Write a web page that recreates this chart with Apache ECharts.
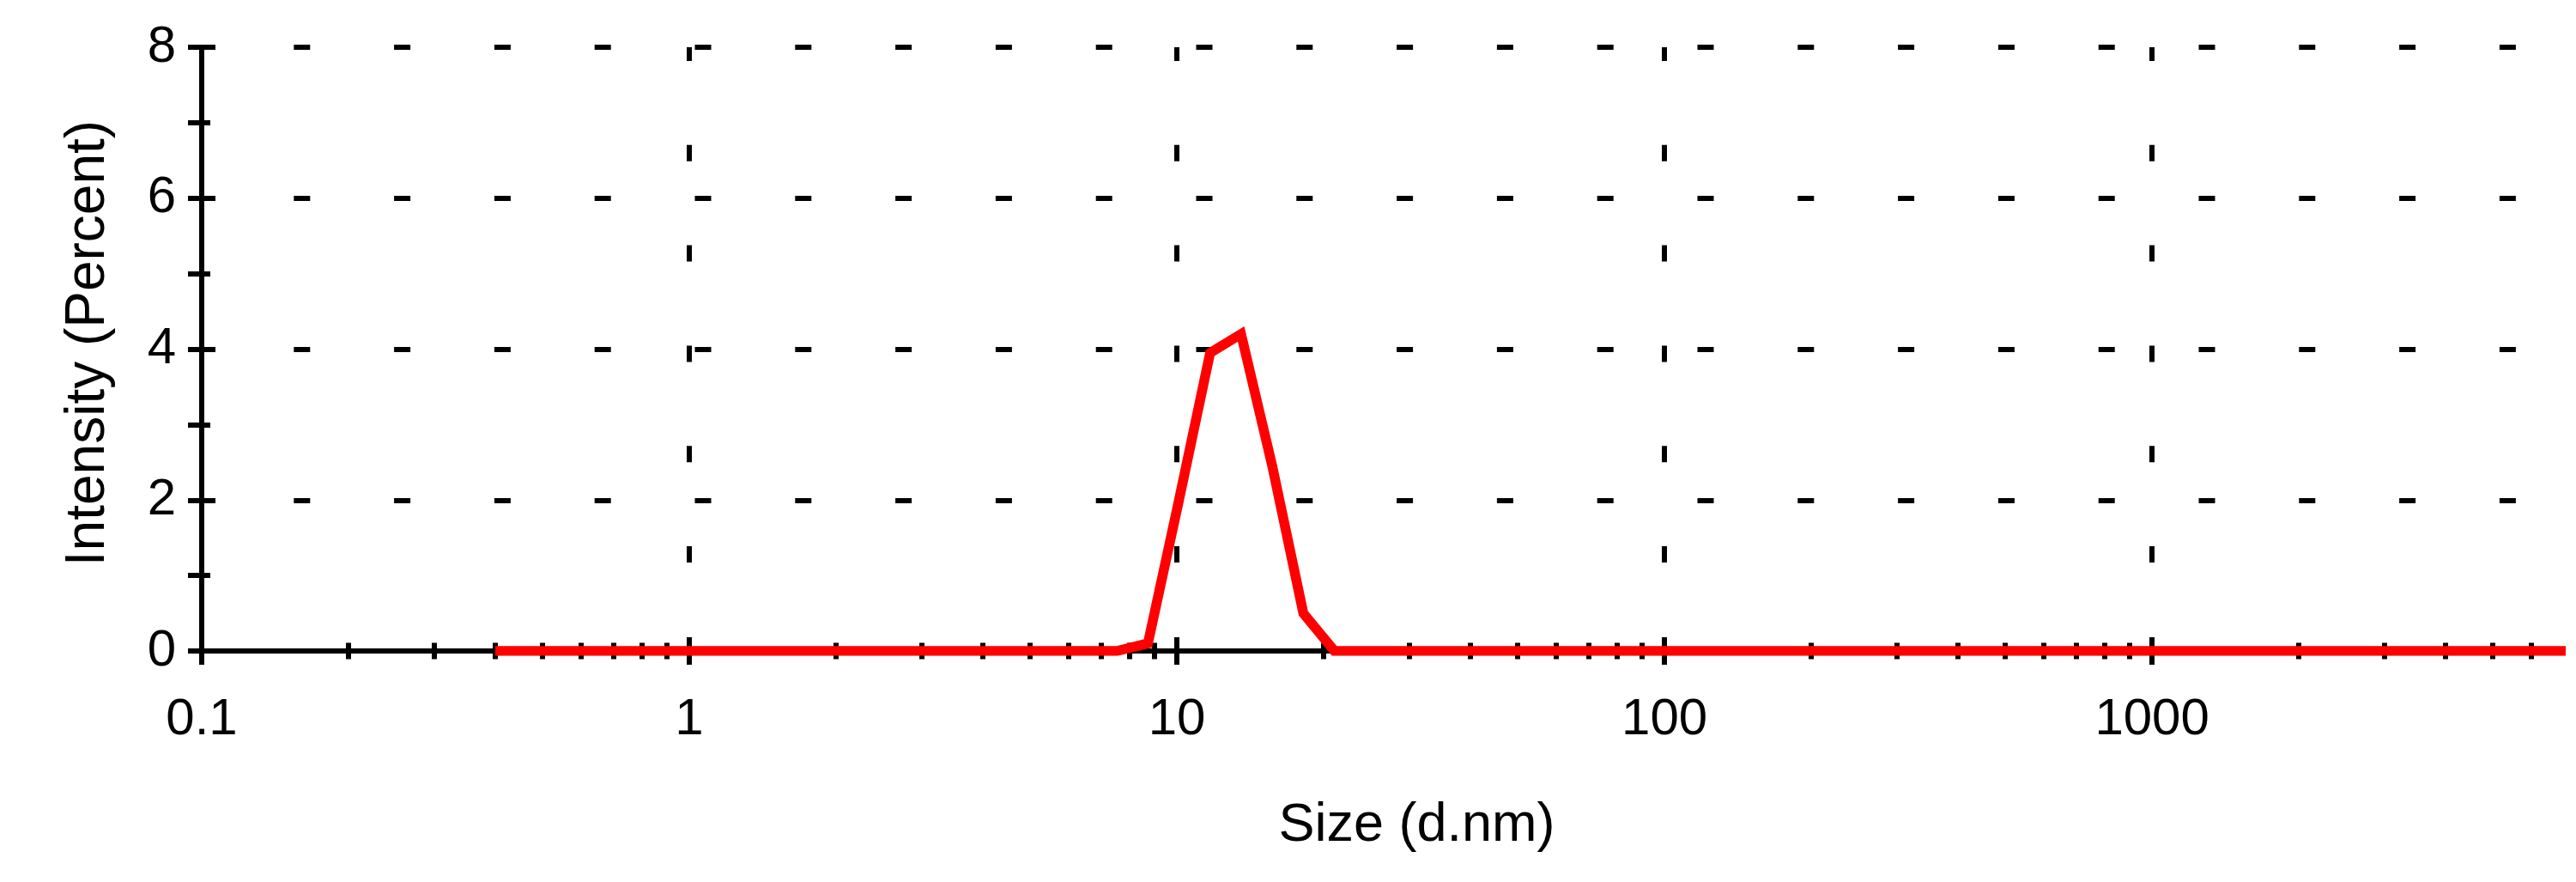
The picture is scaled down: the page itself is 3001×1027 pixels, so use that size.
<!DOCTYPE html>
<html>
<head>
<meta charset="utf-8">
<title>Size Distribution by Intensity</title>
<script src="https://cdn.jsdelivr.net/npm/echarts@6/dist/echarts.min.js"></script>
<style>
  html, body { margin: 0; padding: 0; background: #fff; }
  #chart { width: 3001px; height: 1027px; }
</style>
</head>
<body>
<div id="chart"></div>
<script>
// size classes (d.nm)
const sizes = [
  0.4, 0.4632, 0.5365, 0.6213, 0.7195, 0.8332, 0.9649, 1.117, 1.294, 1.499,
  1.736, 2.01, 2.328, 2.696, 3.122, 3.615, 4.187, 4.849, 5.615, 6.503,
  7.531, 8.721, 10.1, 11.7, 13.54, 15.69, 18.17, 21.04, 24.36, 28.21,
  32.67, 37.84, 43.82, 50.75, 58.77, 68.06, 78.82, 91.28, 105.7, 122.4,
  141.8, 164.2, 190.1, 220.2, 255, 295.3, 342, 396.1, 458.7, 531.2,
  615.1, 712.4, 825, 955.4, 1106, 1281, 1484, 1718, 1990, 2305,
  2669, 3091, 3580, 4145, 4801, 5560, 6439, 7456, 8635, 10000
]
// intensity (percent)
const intensity = [
  0, 0, 0, 0, 0, 0, 0, 0, 0, 0,
  0, 0, 0, 0, 0, 0, 0, 0, 0, 0,
  0, 0.1, 2.0, 3.95, 4.2, 2.45, 0.5, 0, 0, 0,
  0, 0, 0, 0, 0, 0, 0, 0, 0, 0,
  0, 0, 0, 0, 0, 0, 0, 0, 0, 0,
  0, 0, 0, 0, 0, 0, 0, 0, 0, 0,
  0, 0, 0, 0, 0, 0, 0, 0, 0, 0
]
// tick labels
const xTicks = [0.1, 1, 10, 100, 1000]
const xTickLabels = ['0.1', '1', '10', '100', '1000']
const yTicks = [0, 2, 4, 6, 8]

const chart = echarts.init(document.getElementById('chart'))

const font = '"Liberation Sans", Arial, sans-serif'
const black = '#000'
const tickStyle = { color: black, width: 6 }

// only label the decades
const xLabel = v => {
  const i = xTicks.findIndex(t => Math.abs(v / t - 1) < 1e-6)
  return i < 0 ? '' : xTickLabels[i]
}

const xBase = { type: 'log', logBase: 10, min: xTicks[0], max: 6855, position: 'bottom' }
const yBase = { type: 'value', min: yTicks[0], max: yTicks[yTicks.length - 1], interval: 2, position: 'left' }

const option = {
  animation: false,
  backgroundColor: '#fff',
  grid: { left: 235, right: 19, top: 55, bottom: 269 },
  xAxis: [
    {
      ...xBase,
      name: 'Size (d.nm)',
      nameLocation: 'middle',
      nameGap: 172,
      nameTextStyle: { color: black, fontSize: 63, fontFamily: font, padding: [0, 0, 0, 84] },
      axisLine: { show: true, onZero: false, lineStyle: tickStyle },
      axisTick: { show: true, length: 16, customValues: xTicks, lineStyle: tickStyle },
      minorTick: { show: true, splitNumber: 9, length: 9.5, lineStyle: tickStyle },
      axisLabel: { margin: 50, color: black, fontSize: 60, fontFamily: font, customValues: xTicks, formatter: xLabel },
      splitLine: { show: true, showMinLine: false, lineStyle: { color: black, width: 6, type: [19, 97.8], dashOffset: 3 } },
      minorSplitLine: { show: false }
    },
    {
      // ticks pointing up, so they cross the axis line
      ...xBase,
      axisLine: { show: false },
      axisTick: { show: true, inside: true, length: 16, customValues: xTicks, lineStyle: tickStyle },
      minorTick: { show: true, splitNumber: 9, length: 9.5, lineStyle: tickStyle },
      axisLabel: { show: false },
      splitLine: { show: false }
    }
  ],
  yAxis: [
    {
      ...yBase,
      name: 'Intensity (Percent)',
      nameLocation: 'middle',
      nameGap: 100,
      nameTextStyle: { color: black, fontSize: 64, fontFamily: font, padding: [0, 0, 0, 14] },
      axisLine: { show: true, onZero: false, lineStyle: tickStyle },
      axisTick: { show: true, length: 16, lineStyle: tickStyle },
      minorTick: { show: true, splitNumber: 2, length: 16, lineStyle: tickStyle },
      axisLabel: { margin: 30, color: black, fontSize: 60, fontFamily: font, padding: [10, 0, 0, 0] },
      splitLine: { show: true, showMinLine: false, lineStyle: { color: black, width: 6, type: [19, 97.8], dashOffset: 9.5 } }
    },
    {
      ...yBase,
      axisLine: { show: false },
      axisTick: { show: true, inside: true, length: 16, lineStyle: tickStyle },
      minorTick: { show: true, splitNumber: 2, length: 10, lineStyle: tickStyle },
      axisLabel: { show: false },
      splitLine: { show: false }
    }
  ],
  series: [
    {
      type: 'line',
      xAxisIndex: 0,
      yAxisIndex: 0,
      data: sizes.map((s, i) => [s, intensity[i]]),
      showSymbol: false,
      symbol: 'none',
      clip: true,
      z: 5,
      lineStyle: { color: '#ff0000', width: 11.5, join: 'miter' }
    }
  ]
}

chart.setOption(option)
</script>
</body>
</html>
